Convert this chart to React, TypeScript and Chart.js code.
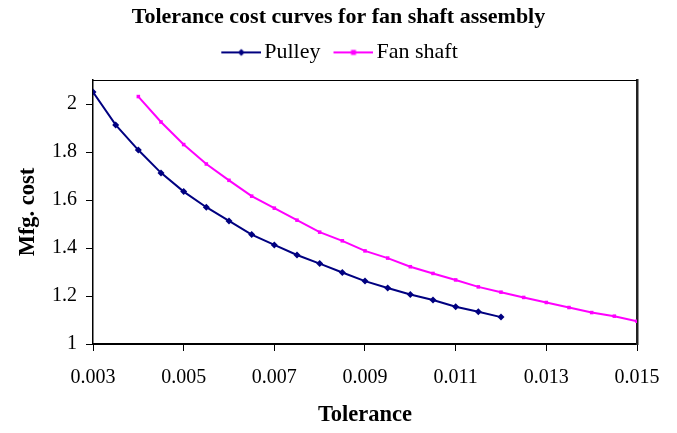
import React, { useEffect, useRef } from "react";
import { Chart, registerables } from "chart.js";

Chart.register(...registerables);

const pulleyTolerance = [0.003, 0.0035, 0.004, 0.0045, 0.005, 0.0055, 0.006, 0.0065, 0.007, 0.0075, 0.008, 0.0085, 0.009, 0.0095, 0.01, 0.0105, 0.011, 0.0115, 0.012];
const pulleyCost = [2.05, 1.913, 1.808, 1.713, 1.635, 1.57, 1.513, 1.456, 1.413, 1.371, 1.335, 1.298, 1.262, 1.233, 1.206, 1.183, 1.155, 1.134, 1.112];

const fanTolerance = [0.004, 0.0045, 0.005, 0.0055, 0.006, 0.0065, 0.007, 0.0075, 0.008, 0.0085, 0.009, 0.0095, 0.01, 0.0105, 0.011, 0.0115, 0.012, 0.0125, 0.013, 0.0135, 0.014, 0.0145, 0.015];
const fanCost = [2.031, 1.925, 1.831, 1.75, 1.682, 1.616, 1.566, 1.516, 1.466, 1.43, 1.388, 1.358, 1.322, 1.294, 1.267, 1.238, 1.216, 1.194, 1.173, 1.152, 1.131, 1.116, 1.095];

const xTickValues = [0.003, 0.005, 0.007, 0.009, 0.011, 0.013, 0.015];
const yTickValues = [1, 1.2, 1.4, 1.6, 1.8, 2];

const seriesNames = ["Pulley", "Fan shaft"];
const titleText = "Tolerance cost curves for fan shaft assembly";
const xTitle = "Tolerance";
const yTitle = "Mfg. cost";

const FONT = '"Liberation Serif", "Times New Roman", serif';
const NAVY = "#000080";
const MAGENTA = "#FF00FF";

function makeSymbol(color: string, shape: "diamond" | "square"): HTMLCanvasElement {
  const c = document.createElement("canvas");
  c.width = 50;
  c.height = 10;
  const g = c.getContext("2d")!;
  g.strokeStyle = color;
  g.lineWidth = 2;
  g.beginPath();
  g.moveTo(10, 5);
  g.lineTo(50, 5);
  g.stroke();
  g.fillStyle = color;
  if (shape === "diamond") {
    g.beginPath();
    g.moveTo(30, 1.5);
    g.lineTo(33.5, 5);
    g.lineTo(30, 8.5);
    g.lineTo(26.5, 5);
    g.closePath();
    g.fill();
  } else {
    g.fillRect(27.5, 2.5, 5, 5);
  }
  return c;
}

const boxPlugin = {
  id: "boxPlugin",
  afterDraw(chart: any) {
    const { ctx, chartArea } = chart;
    ctx.save();
    ctx.strokeStyle = "#000";
    ctx.lineWidth = 1;
    ctx.beginPath();
    ctx.moveTo(chartArea.left, chartArea.top + 0.5);
    ctx.lineTo(chartArea.right, chartArea.top + 0.5);
    ctx.stroke();
    ctx.restore();
  },
};

export default function App() {
  const ref = useRef<HTMLCanvasElement | null>(null);

  useEffect(() => {
    if (!ref.current) return;
    const symbols = [makeSymbol(NAVY, "diamond"), makeSymbol(MAGENTA, "square")];
    const chart = new Chart(ref.current, {
      type: "line",
      data: {
        datasets: [
          {
            label: seriesNames[0],
            data: pulleyTolerance.map((x, i) => ({ x, y: pulleyCost[i] })),
            borderColor: NAVY,
            backgroundColor: NAVY,
            borderWidth: 2,
            pointStyle: "rectRot",
            pointRadius: 3.5,
            pointBorderWidth: 0,
            tension: 0,
          },
          {
            label: seriesNames[1],
            data: fanTolerance.map((x, i) => ({ x, y: fanCost[i] })),
            borderColor: MAGENTA,
            backgroundColor: MAGENTA,
            borderWidth: 2,
            pointStyle: "rect",
            pointRadius: 2.5,
            pointBorderWidth: 0,
            tension: 0,
          },
        ],
      },
      options: {
        animation: false,
        responsive: false,
        maintainAspectRatio: false,
        layout: { padding: 0 },
        plugins: {
          title: {
            display: true,
            text: titleText,
            color: "#000",
            font: { family: FONT, size: 22, weight: "bold", lineHeight: 1.2 },
            padding: { top: 4, bottom: 0 },
          },
          legend: {
            display: true,
            position: "top",
            labels: {
              usePointStyle: true,
              pointStyleWidth: 34,
              padding: 11,
              color: "#000",
              font: { family: FONT, size: 22 },
              generateLabels: (c: any) =>
                c.data.datasets.map((ds: any, i: number) => ({
                  text: ds.label,
                  fillStyle: ds.borderColor,
                  strokeStyle: ds.borderColor,
                  lineWidth: 0,
                  pointStyle: symbols[i],
                  datasetIndex: i,
                  hidden: false,
                  fontColor: "#000",
                })),
            },
          },
          tooltip: { enabled: false },
        },
        scales: {
          x: {
            type: "linear",
            position: "bottom",
            min: 0.003,
            max: 0.015,
            afterBuildTicks: (s: any) => {
              s.ticks = xTickValues.map((v) => ({ value: v }));
            },
            afterFit: (s: any) => {
              s.height = 89;
            },
            ticks: {
              color: "#000",
              font: { family: FONT, size: 20 },
              padding: 15,
              maxRotation: 0,
              autoSkip: false,
              callback: (v: any) => String(v),
            },
            grid: { display: true, drawOnChartArea: false, drawTicks: true, tickLength: 7, color: "#000", lineWidth: 1 },
            border: { display: true, color: "#000", width: 2 },
            title: {
              display: true,
              text: xTitle,
              color: "#000",
              font: { family: FONT, size: 22.5, weight: "bold" },
              padding: { top: 0, bottom: 4.5 },
            },
          },
          x2: {
            type: "linear",
            position: "top",
            min: 0.003,
            max: 0.015,
            ticks: { display: false },
            grid: { display: false },
            border: { display: false },
            afterFit: (s: any) => {
              s.height = 6.6;
            },
          },
          y: {
            type: "linear",
            position: "left",
            min: 1,
            max: 2.1,
            afterBuildTicks: (s: any) => {
              s.ticks = yTickValues.map((v) => ({ value: v }));
            },
            afterFit: (s: any) => {
              s.width = 93;
            },
            ticks: {
              color: "#000",
              font: { family: FONT, size: 20 },
              padding: 9,
              callback: (v: any) => String(v),
            },
            grid: { display: true, drawOnChartArea: false, drawTicks: true, tickLength: 7, color: "#000", lineWidth: 1 },
            border: { display: true, color: "#000", width: 1.5 },
            title: {
              display: true,
              text: yTitle,
              color: "#000",
              font: { family: FONT, size: 22.5, weight: "bold" },
              padding: { top: 14.5, bottom: 0 },
            },
          },
          y2: {
            type: "linear",
            position: "right",
            min: 1,
            max: 2.1,
            ticks: { display: false },
            grid: { display: false },
            border: { display: true, color: "#222", width: 2.5 },
            afterFit: (s: any) => {
              s.width = 40;
            },
          },
        },
      } as any,
      plugins: [boxPlugin],
    });
    return () => chart.destroy();
  }, []);

  return (
    <div style={{ position: "fixed", left: 0, top: 0, width: 677, height: 433, background: "#fff" }}>
      <canvas ref={ref} width={677} height={433} style={{ display: "block" }} />
    </div>
  );
}
